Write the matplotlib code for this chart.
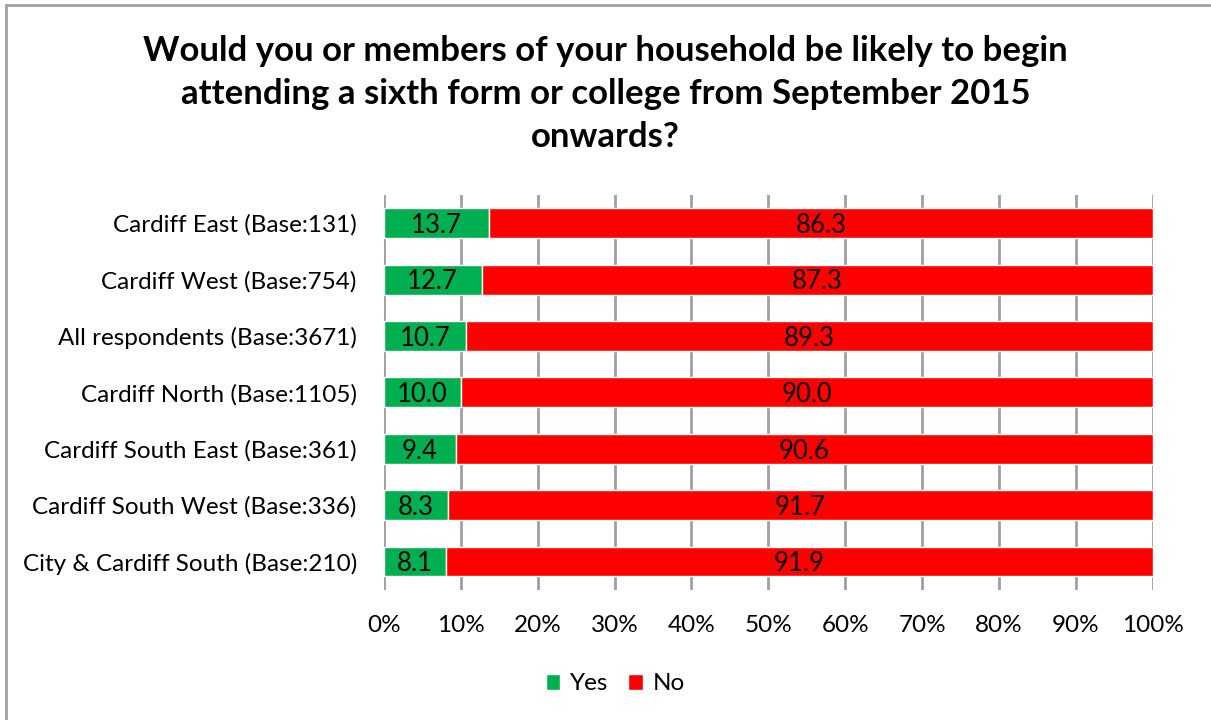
import matplotlib.pyplot as plt
from matplotlib.patches import Rectangle

plt.rcParams["font.family"] = ["Lato", "DejaVu Sans"]

categories = [
    "Cardiff East (Base:131)",
    "Cardiff West (Base:754)",
    "All respondents (Base:3671)",
    "Cardiff North (Base:1105)",
    "Cardiff South East (Base:361)",
    "Cardiff South West (Base:336)",
    "City & Cardiff South (Base:210)",
]
yes = [13.7, 12.7, 10.7, 10.0, 9.4, 8.3, 8.1]
no = [86.3, 87.3, 89.3, 90.0, 90.6, 91.7, 91.9]
ticks = [0, 10, 20, 30, 40, 50, 60, 70, 80, 90, 100]
tick_labels = [f"{t}%" for t in ticks]

green = "#00B050"
red = "#FF0000"

fig = plt.figure(figsize=(12.11, 7.2), dpi=100)
ax = fig.add_axes([0.317, 0.181, 0.635, 0.548])

ypos = list(range(len(categories)))
b1 = ax.barh(ypos, yes, height=0.53, color=green, edgecolor="white", linewidth=1, label="Yes", zorder=3)
b2 = ax.barh(ypos, no, left=yes, height=0.53, color=red, edgecolor="white", linewidth=1, label="No", zorder=3)

for bars, vals in ((b1, yes), (b2, no)):
    for r, v in zip(bars, vals):
        ax.text(r.get_x() + r.get_width() / 2, r.get_y() + r.get_height() / 2 + 0.04,
                f"{v:.1f}", ha="center", va="center", fontsize=18.5, zorder=4)

ax.set_xlim(0, 100)
ax.set_ylim(len(categories) - 0.5, -0.5)
ax.set_yticks(ypos)
ax.set_yticklabels(categories, fontsize=17.5)
ax.set_xticks(ticks)
ax.set_xticklabels(tick_labels, fontsize=17.5)
ax.tick_params(axis="y", length=0, pad=19.5)
ax.tick_params(axis="x", length=0, pad=18)
ax.xaxis.grid(True, color="#A0A0A0", linewidth=2, zorder=0)
for s in ax.spines.values():
    s.set_visible(False)

fig.suptitle("Would you or members of your household be likely to begin\n"
             "attending a sixth form or college from September 2015\n"
             "onwards?", fontsize=25, fontweight="bold", y=0.951, linespacing=1.42)

fig.legend(handles=[b1, b2], labels=["Yes", "No"], loc="center", bbox_to_anchor=(0.508, 0.05),
           ncol=2, frameon=False, fontsize=17.5, handlelength=0.6, handleheight=0.6,
           handletextpad=0.4, columnspacing=0.8)

fig.patches.append(Rectangle((0.005, -0.01), 1.1, 1.003, transform=fig.transFigure,
                             fill=False, edgecolor="#A0A0A0", linewidth=2))

fig.savefig("out.png", dpi=100)
